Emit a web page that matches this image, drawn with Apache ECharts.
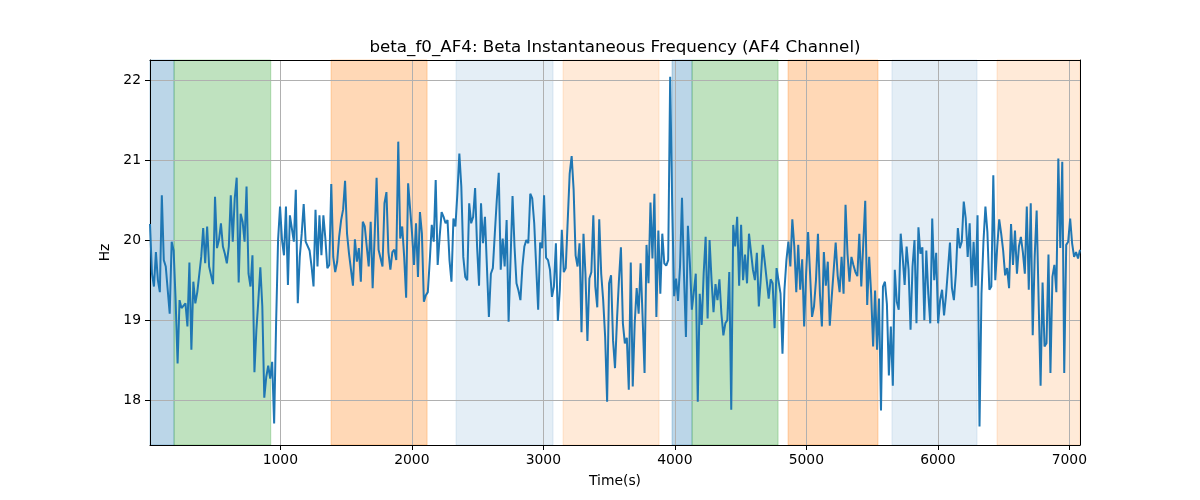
<!DOCTYPE html>
<html>
<head>
<meta charset="utf-8">
<script src="https://cdn.jsdelivr.net/npm/echarts@6/dist/echarts.min.js"></script>
<style>html,body{margin:0;padding:0;background:#fff}#c{width:1200px;height:500px}</style>
</head>
<body>
<div id="c"></div>
<script>
// ---- data ----
const T_START = 9;
const T_END = 7081;
const freqValues = [
20.2,19.58,19.42,19.85,19.5,19.35,20.56,19.75,19.67,19.65,19.08,19.98,19.87,19.25,18.46,19.25,19.15,19.17,19.21,18.92,19.72,18.63,19.48,19.21,19.35,19.37,19.79,20.15,19.71,20.17,19.67,19.65,19.45,20.54,19.9,20.0,20.21,19.92,19.83,19.71,19.92,20.56,19.98,20.52,20.78,19.47,20.33,
20.23,19.98,20.67,19.58,19.42,19.81,18.35,18.88,19.25,19.66,19.17,18.03,18.29,18.43,18.27,18.48,17.71,18.96,20.0,20.42,20.0,19.81,20.42,19.44,20.31,20.29,19.98,20.63,19.21,19.79,20.08,20.45,19.98,19.98,19.87,19.67,19.42,20.38,19.67,20.31,19.81,20.31,20.02,19.65,19.69,20.7,19.79,
19.6,19.73,20.04,20.25,20.38,20.74,20.08,19.83,19.84,19.43,20.01,19.73,19.9,19.48,20.23,20.17,20.19,19.67,20.23,19.4,20.04,20.78,19.88,19.88,19.67,20.46,20.6,19.85,19.63,19.85,19.88,19.75,21.23,20.02,20.17,19.79,19.28,20.71,20.69,20.08,19.69,20.21,19.54,20.35,20.08,19.23,
19.31,19.35,19.75,20.19,19.98,20.75,19.69,20.04,20.35,20.29,20.21,20.25,19.75,19.48,20.27,20.17,20.58,21.08,20.67,19.79,19.54,19.5,20.46,20.21,20.29,20.65,19.92,19.43,20.46,19.96,20.29,20.31,19.04,19.58,19.65,20.08,20.5,20.84,19.63,20.02,19.67,20.25,18.98,19.0,20.55,19.92,19.46,
19.37,19.25,19.67,19.92,20.0,19.96,20.58,20.52,20.21,19.67,19.13,19.97,19.9,20.56,19.78,19.75,19.63,19.29,19.42,19.96,18.99,19.38,20.13,19.6,19.65,19.63,20.83,21.05,20.63,19.81,19.67,19.96,18.85,20.08,19.58,18.74,19.52,19.6,20.31,19.42,19.16,20.26,19.58,19.25,18.79,17.98,19.46,
19.56,18.75,18.4,19.0,19.5,19.91,18.96,18.71,18.78,18.13,19.72,18.17,18.96,19.4,19.08,19.71,19.04,18.34,19.94,19.46,20.47,19.77,20.58,19.04,20.12,19.33,20.08,19.71,19.68,19.75,22.04,20.48,19.3,19.52,19.24,19.67,20.53,19.58,18.79,20.18,19.71,19.13,19.35,19.58,17.98,19.33,18.94,
19.58,20.04,19.02,20.0,19.5,19.1,19.45,19.25,19.51,19.08,18.81,18.96,19.0,19.6,17.88,20.19,19.92,20.29,19.43,20.19,19.5,19.82,19.46,20.08,20.08,19.63,19.5,19.84,19.17,19.52,19.94,19.73,19.74,19.27,19.51,19.46,18.9,19.65,19.66,19.33,18.58,19.38,19.75,19.98,19.67,20.26,19.92,
19.35,19.94,19.38,19.76,18.92,19.58,20.1,19.58,19.04,19.17,19.5,20.08,19.33,18.92,19.85,19.43,19.73,18.93,19.29,19.63,19.97,19.56,19.35,19.79,19.33,20.44,19.83,19.48,19.79,19.69,19.6,19.55,20.08,19.42,19.43,20.49,19.19,19.79,19.33,18.67,19.37,18.63,19.27,17.87,19.42,19.48,
19.2,18.31,18.92,18.18,19.63,19.23,19.13,20.08,19.79,19.44,19.92,19.63,18.88,19.67,20.0,18.96,20.16,19.83,19.91,19.0,19.87,19.33,18.96,20.27,19.5,19.84,18.96,19.25,19.38,19.06,19.31,19.33,19.97,19.4,19.25,19.58,20.15,19.9,19.98,20.48,20.27,19.79,20.21,19.41,19.98,19.43,20.31,
17.67,19.33,19.98,20.42,20.1,19.38,19.42,20.81,19.5,19.92,20.26,20.08,19.87,19.56,19.65,19.4,20.2,19.69,20.12,19.58,19.92,20.04,19.85,19.58,20.42,19.38,20.46,18.81,19.79,20.37,19.25,18.18,19.47,18.67,18.71,19.82,18.34,19.54,19.69,19.35,21.02,19.9,20.98,18.34,19.94,19.98,20.27,19.96,19.79,19.85,19.77,19.88
];
const spanStart = [9, 192, 1386, 2336, 3150, 3979, 4131, 4861, 5651, 6450];
const spanEnd   = [192, 927, 2116, 3074, 3880, 4131, 4785, 5545, 6298, 7081];
const spanKind  = ['blue','green','orange','lightblue','lightorange','blue','green','orange','lightblue','lightorange'];
const xTicks = [1000, 2000, 3000, 4000, 5000, 6000, 7000];
const yTicks = [18, 19, 20, 21, 22];
const Y_MIN = 17.44, Y_MAX = 22.25;
const TITLE = 'beta_f0_AF4: Beta Instantaneous Frequency (AF4 Channel)';

// ---- styles ----
const spanColors = {
  blue: 'rgba(31,119,180,0.3)',
  green: 'rgba(44,160,44,0.3)',
  orange: 'rgba(255,127,14,0.3)',
  lightblue: 'rgba(31,119,180,0.12)',
  lightorange: 'rgba(255,127,14,0.16)'
};
const FONT = 'DejaVu Sans';

const step = (T_END - T_START) / (freqValues.length - 1);
const lineData = freqValues.map((v, i) => [T_START + i * step, v]);
const areas = spanStart.map((s, i) => [
  { xAxis: s, itemStyle: { color: spanColors[spanKind[i]], borderColor: spanColors[spanKind[i]], borderWidth: 1 } },
  { xAxis: spanEnd[i] }
]);

const chart = echarts.init(document.getElementById('c'), null, { renderer: 'canvas' });
const baseX = { type: 'value', min: T_START, max: T_END, minInterval: 1000, maxInterval: 1000 };
const baseY = { type: 'value', min: Y_MIN, max: Y_MAX, minInterval: 1, maxInterval: 1 };
chart.setOption({
  animation: false,
  backgroundColor: '#fff',
  title: {
    text: TITLE, left: 610, top: 34, textAlign: 'center',
    textStyle: { fontFamily: FONT, fontSize: 16.7, fontWeight: 'normal', color: '#000' }
  },
  grid: { left: 150, right: 120, top: 60, bottom: 55, containLabel: false },
  xAxis: [
    Object.assign({}, baseX, {
      position: 'bottom', z: 3,
      name: 'Time(s)', nameLocation: 'middle', nameGap: 29,
      nameTextStyle: { fontFamily: FONT, fontSize: 13.9, color: '#000' },
      axisLine: { show: true, onZero: false, lineStyle: { color: '#000', width: 1 } },
      axisTick: { show: true, customValues: xTicks, length: 5, lineStyle: { color: '#000', width: 1 } },
      axisLabel: { show: true, customValues: xTicks, formatter: v => String(v), margin: 8, fontFamily: FONT, fontSize: 13.9, color: '#000' },
      splitLine: { show: true, lineStyle: { color: '#b0b0b0', width: 1 } }
    }),
    Object.assign({}, baseX, {
      position: 'top', z: 3,
      axisLine: { show: true, onZero: false, lineStyle: { color: '#000', width: 1 } },
      axisTick: { show: false }, axisLabel: { show: false }, splitLine: { show: false }
    })
  ],
  yAxis: [
    Object.assign({}, baseY, {
      position: 'left', z: 3,
      name: 'Hz', nameLocation: 'middle', nameGap: 34, nameRotate: 90,
      nameTextStyle: { fontFamily: FONT, fontSize: 13.9, color: '#000' },
      axisLine: { show: true, onZero: false, lineStyle: { color: '#000', width: 1 } },
      axisTick: { show: true, customValues: yTicks, length: 5, lineStyle: { color: '#000', width: 1 } },
      axisLabel: { show: true, customValues: yTicks, formatter: v => String(v), margin: 9, fontFamily: FONT, fontSize: 13.9, color: '#000' },
      splitLine: { show: true, lineStyle: { color: '#b0b0b0', width: 1 } }
    }),
    Object.assign({}, baseY, {
      position: 'right', z: 3,
      axisLine: { show: true, onZero: false, lineStyle: { color: '#000', width: 1 } },
      axisTick: { show: false }, axisLabel: { show: false }, splitLine: { show: false }
    })
  ],
  series: [
    {
      type: 'line', xAxisIndex: 0, yAxisIndex: 0, z: 1, data: [], silent: true,
      markArea: { silent: true, data: areas }
    },
    {
      type: 'line', xAxisIndex: 0, yAxisIndex: 0, z: 5, data: lineData,
      showSymbol: false, symbol: 'none',
      lineStyle: { color: '#1f77b4', width: 2 }
    }
  ]
});
</script>
</body>
</html>
